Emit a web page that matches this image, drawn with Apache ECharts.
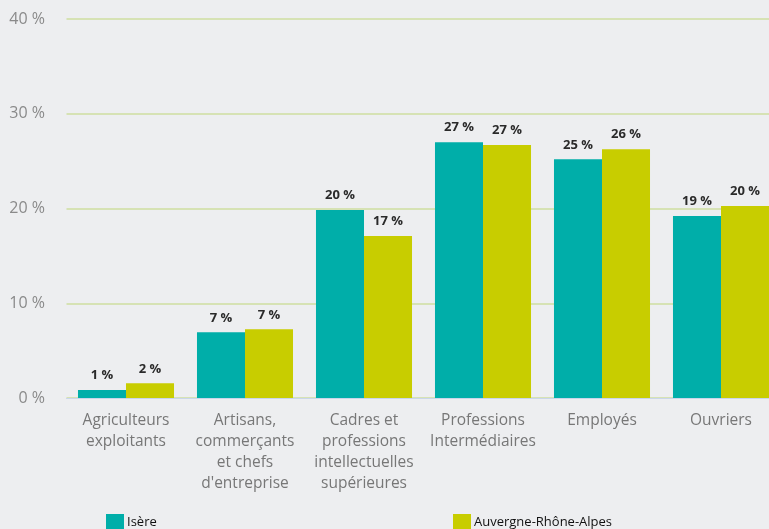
<!DOCTYPE html>
<html>
<head>
<meta charset="utf-8">
<script src="https://cdn.jsdelivr.net/npm/echarts@6/dist/echarts.min.js"></script>
<style>
	html,body{margin:0;padding:0;background:#edeef0;}
	#chart{width:769px;height:529px;}
</style>
</head>
<body>
<div id="chart"></div>
<script>
	// categories and values (%)
	var categories = [
		'Agriculteurs\nexploitants',
		'Artisans,\ncommerçants\net chefs\nd\'entreprise',
		'Cadres et\nprofessions\nintellectuelles\nsupérieures',
		'Professions\nIntermédiaires',
		'Employés',
		'Ouvriers'
	];
	var isere = [0.84, 6.93, 19.84, 26.99, 25.19, 19.2];
	var auvergne = [1.55, 7.25, 17.1, 26.7, 26.25, 20.26];
	var yTicks = [0, 10, 20, 30, 40];

	var myChart = echarts.init(document.getElementById('chart'));
	var barLabel = {
		show: true,
		position: 'top',
		distance: 8,
		color: '#2a2a2a',
		fontWeight: 'bold',
		fontSize: 13,
		fontFamily: 'Open Sans',
		formatter: function (p) { return Math.round(p.value) + ' %'; }
	};
	var legendText = { color: '#111', fontSize: 13, fontFamily: 'Open Sans', padding: [2, 0, 0, -2] };
	var option = {
		backgroundColor: '#edeef0',
		animation: false,
		// plot runs past the right edge, like the original
		grid: { left: 66.5, width: 714, top: 19, bottom: 131, outerBoundsMode: 'none' },
		legend: [
			{
				data: ['Isère'], left: 106, top: 514, padding: 0,
				icon: 'rect', itemWidth: 18, itemHeight: 17, itemGap: 0,
				textStyle: legendText
			},
			{
				data: ['Auvergne-Rhône-Alpes'], left: 453, top: 514, padding: 0,
				icon: 'rect', itemWidth: 18, itemHeight: 17, itemGap: 0,
				textStyle: legendText
			}
		],
		xAxis: {
			type: 'category',
			data: categories,
			axisLine: { lineStyle: { color: '#c9d6ea', width: 1 } },
			axisTick: { show: false },
			axisLabel: {
				color: '#777', fontSize: 15.5, fontFamily: 'Open Sans',
				lineHeight: 21, margin: 12, interval: 0
			}
		},
		yAxis: {
			type: 'value',
			min: yTicks[0],
			max: yTicks[yTicks.length - 1],
			interval: 10,
			axisLabel: {
				color: '#8a8a8a', fontSize: 16, fontFamily: 'Open Sans',
				margin: 21.5, formatter: '{value} %'
			},
			splitLine: { lineStyle: { color: '#d6e2b4', width: 2 } }
		},
		series: [
			{
				name: 'Isère', type: 'bar', data: isere,
				barGap: '0%', barCategoryGap: '19.3%',
				itemStyle: { color: '#00aea9' },
				label: barLabel
			},
			{
				name: 'Auvergne-Rhône-Alpes', type: 'bar', data: auvergne,
				itemStyle: { color: '#c8cd00' },
				label: barLabel
			}
		]
	};
	myChart.setOption(option);
</script>
</body>
</html>
